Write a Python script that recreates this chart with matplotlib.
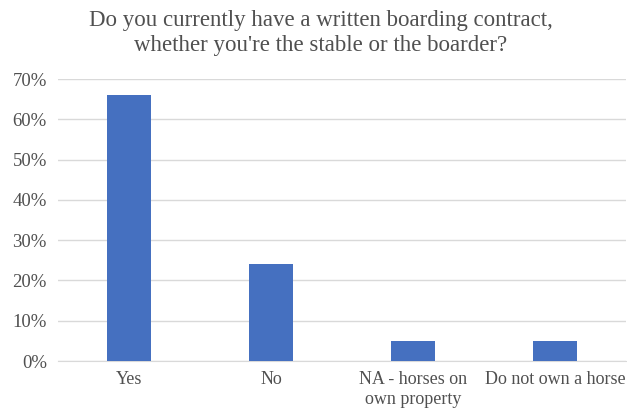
import matplotlib
matplotlib.use("Agg")
import matplotlib.pyplot as plt
from matplotlib.ticker import PercentFormatter

categories = ["Yes", "No", "NA - horses on\nown property", "Do not own a horse"]
values = [0.66, 0.24, 0.05, 0.05]
yticks = [0, 0.1, 0.2, 0.3, 0.4, 0.5, 0.6, 0.7]
title = "Do you currently have a written boarding contract,\nwhether you're the stable or the boarder?"

plt.rcParams['font.family'] = ['Liberation Serif', 'DejaVu Serif']

fig = plt.figure(figsize=(6.27, 4.12), dpi=100)
ax = fig.add_axes([58/627, 1-361/412, (626-58)/627, (361-79)/412])

x = list(range(len(categories)))
ax.bar(x, values, width=0.31, color="#4570C0", zorder=3)
ax.set_xlim(-0.5, len(categories) - 0.5)
ax.set_ylim(0, 0.7)
ax.set_yticks(yticks)
ax.yaxis.set_major_formatter(PercentFormatter(1.0, decimals=0))
ax.set_xticks(x)
ax.set_xticklabels(categories, fontsize=13, color="#505050", linespacing=1.25)
ax.tick_params(axis='y', labelsize=13.5, labelcolor="#505050", length=0, pad=8)
ax.tick_params(axis='x', length=0, pad=7)
ax.grid(axis='y', color="#d9d9d9", linewidth=1.0, zorder=0)
for s in ["top", "right", "left"]:
    ax.spines[s].set_visible(False)
ax.spines["bottom"].set_color("#d9d9d9")

fig.text(321/627, 1 - 33/412, title, ha="center", va="center", fontsize=16.5,
         color="#505050", linespacing=1.3)

fig.savefig("out.png", dpi=100)
